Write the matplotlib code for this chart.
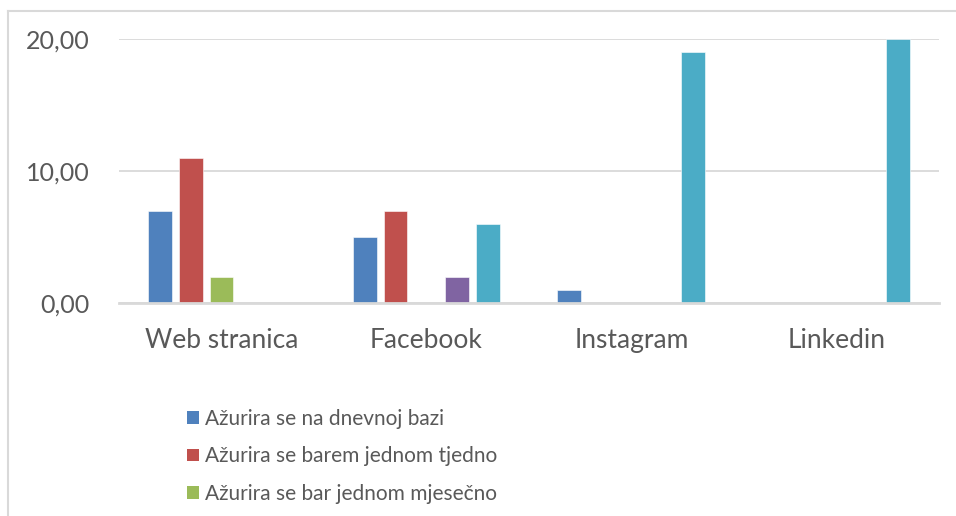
import numpy as np
import matplotlib.pyplot as plt
from matplotlib.patches import Patch
from matplotlib.lines import Line2D

categories = ['Web stranica', 'Facebook', 'Instagram', 'Linkedin']
series_names = ['Ažurira se na dnevnoj bazi',
                'Ažurira se barem jednom tjedno',
                'Ažurira se bar jednom mjesečno',
                'Serija 4',
                'Serija 5']
dnevno = [7, 5, 1, 0]
tjedno = [11, 7, 0, 0]
mjesecno = [2, 0, 0, 0]
serija4 = [0, 2, 0, 0]
serija5 = [0, 6, 19, 20]
yticks = [0, 10, 20]

colors = ['#4F81BD', '#C0504D', '#9BBB59', '#8064A2', '#4BACC6']
values = [dnevno, tjedno, mjesecno, serija4, serija5]

plt.rcParams['font.family'] = ['Lato', 'DejaVu Sans']
txt = '#595959'
grid = '#D9D9D9'

fig = plt.figure(figsize=(9.56, 5.16), dpi=100)
ax = fig.add_axes([0.1245, 0.4128, 0.8575, 0.5116])

x = np.arange(len(categories))
slot = 0.151
width = 0.117
for i, (vals, c) in enumerate(zip(values, colors)):
    ax.bar(x + (i - 2) * slot, vals, width, color=c, edgecolor='white',
           linewidth=0.4, zorder=3)

ax.set_xlim(-0.5, len(categories) - 0.5)
ax.set_ylim(0, 20)
ax.set_yticks(yticks)
ax.set_yticklabels([f'{v:.2f}'.replace('.', ',') for v in yticks])
ax.set_xticks(x)
ax.set_xticklabels(categories)
ax.tick_params(axis='y', length=0, pad=21, labelsize=18, colors=txt)
ax.tick_params(axis='x', length=0, pad=18, labelsize=19, colors=txt)
ax.yaxis.grid(True, color=grid, linewidth=1.3, zorder=0)
for s in ['top', 'right', 'left']:
    ax.spines[s].set_visible(False)
ax.spines['bottom'].set_color(grid)
ax.spines['bottom'].set_linewidth(2)
ax.spines['bottom'].set_zorder(4)

handles = [Patch(facecolor=c) for c in colors[:3]]
leg = fig.legend(handles, series_names[:3], loc='upper left',
                 bbox_to_anchor=(0.196, 0.208), frameon=False, fontsize=15,
                 handlelength=0.55, handleheight=0.55, handletextpad=0.3,
                 labelspacing=0.85, borderpad=0, borderaxespad=0)
for t in leg.get_texts():
    t.set_color(txt)

# chart area border (left and top visible)
fig.add_artist(Line2D([0.0084, 0.0084], [0, 1 - 11 / 516], color=grid, linewidth=1.5))
fig.add_artist(Line2D([0.0084, 1], [1 - 11 / 516, 1 - 11 / 516], color=grid, linewidth=1.5))

fig.savefig('out.png', dpi=100)
